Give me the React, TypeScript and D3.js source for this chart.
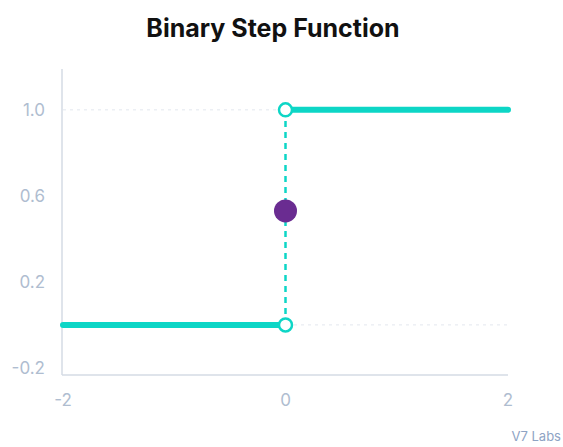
import React from "react";
import * as d3 from "d3";

const title = "Binary Step Function";
const yTicks = [-0.2, 0.2, 0.6, 1.0];
const xTicks = [-2, 0, 2];
const lowSegment = [{ x: -2, y: 0 }, { x: 0, y: 0 }];
const highSegment = [{ x: 0, y: 1 }, { x: 2, y: 1 }];
const jumpSegment = [{ x: 0, y: 0 }, { x: 0, y: 1 }];
const openPoints = [{ x: 0, y: 0 }, { x: 0, y: 1 }];
const midPoint = [{ x: 0, y: 0.53 }];
const gridValues = [0, 1];
const credit = "V7 Labs";

const W = 563;
const H = 447;
const TEAL = "#0dd6c6";
const PURPLE = "#6a2c91";
const TICK = "#afbdd0";

export default function App() {
  const x = d3.scaleLinear().domain([-2, 2]).range([63, 508]);
  const y = d3.scaleLinear().domain([-0.233, 1.19]).range([375, 69]);
  const line = d3.line<{ x: number; y: number }>().x((d) => x(d.x)).y((d) => y(d.y));
  const font = "Inter, 'Noto Sans', sans-serif";
  return (
    <svg width={W} height={H} style={{ position: "absolute", left: 0, top: 0 }}>
      <rect width={W} height={H} fill="#fff" />
      <text x={273} y={37} textAnchor="middle" fontFamily={font} fontWeight={700} fontSize={25} fill="#111">
        {title}
      </text>
      {gridValues.map((g) => (
        <line key={g} x1={x(-2)} x2={x(2)} y1={y(g)} y2={y(g)} stroke="#e3e7ee" strokeWidth={1} strokeDasharray="3,4" />
      ))}
      <line x1={x(-2) - 1} x2={x(-2) - 1} y1={y(1.19)} y2={y(-0.233)} stroke="#d5dbe5" strokeWidth={1.5} />
      <line x1={x(-2) - 1} x2={x(2)} y1={y(-0.233)} y2={y(-0.233)} stroke="#d5dbe5" strokeWidth={1.5} />
      {yTicks.map((t) => (
        <text key={t} x={45} y={y(t)} dy="0.35em" textAnchor="end" fontFamily={font} fontSize={17} fill={TICK}>
          {t.toFixed(1)}
        </text>
      ))}
      {xTicks.map((t) => (
        <text key={t} x={x(t)} y={406} textAnchor="middle" fontFamily={font} fontSize={17} fill={TICK}>
          {t}
        </text>
      ))}
      <path d={line(jumpSegment) || ""} stroke={TEAL} strokeWidth={2.5} strokeDasharray="6,5" fill="none" />
      <path d={line(lowSegment) || ""} stroke={TEAL} strokeWidth={6} strokeLinecap="round" fill="none" />
      <path d={line(highSegment) || ""} stroke={TEAL} strokeWidth={6} strokeLinecap="round" fill="none" />
      {openPoints.map((p, i) => (
        <circle key={i} cx={x(p.x)} cy={y(p.y)} r={6.5} fill="#fff" stroke={TEAL} strokeWidth={2.5} />
      ))}
      {midPoint.map((p, i) => (
        <circle key={i} cx={x(p.x)} cy={y(p.y)} r={11.5} fill={PURPLE} />
      ))}
      <text x={561} y={441} textAnchor="end" fontFamily={font} fontSize={13} fill="#8ea3c4">
        {credit}
      </text>
    </svg>
  );
}
